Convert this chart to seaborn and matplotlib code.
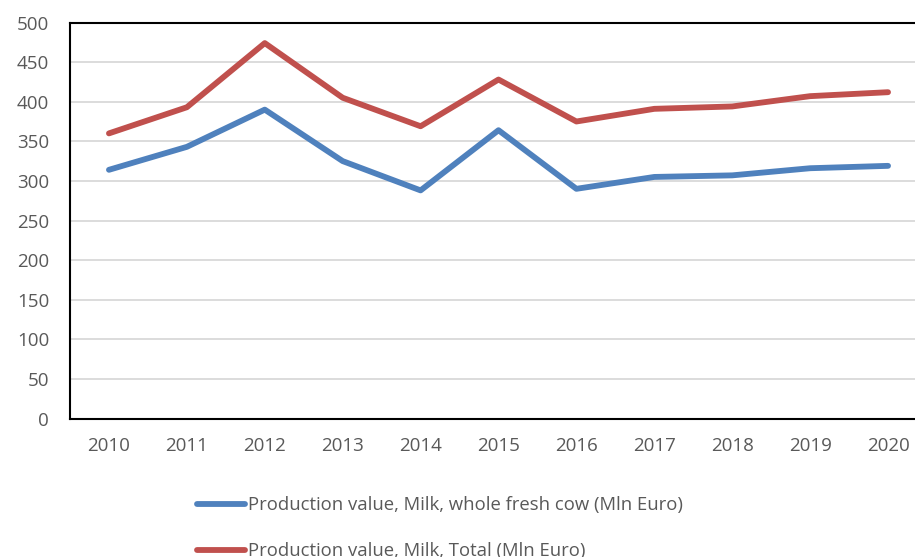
import numpy as np
import pandas as pd
import matplotlib
matplotlib.use("Agg")
import matplotlib.pyplot as plt
import seaborn as sns
from matplotlib.lines import Line2D

years = ["2010", "2011", "2012", "2013", "2014", "2015", "2016", "2017", "2018", "2019", "2020"]
whole_fresh_cow = [314, 343, 390, 325, 288, 364, 290, 305, 307, 316, 319]
milk_total = [360, 393, 474, 405, 369, 428, 375, 391, 394, 407, 412]
series_names = [
    "Production value, Milk, whole fresh cow (Mln Euro)",
    "Production value, Milk, Total (Mln Euro)",
]
y_ticks = [0, 50, 100, 150, 200, 250, 300, 350, 400, 450, 500]

df = pd.DataFrame({
    "Year": years * 2,
    "Value": whole_fresh_cow + milk_total,
    "Series": [series_names[0]] * len(years) + [series_names[1]] * len(years),
})
df["pos"] = df["Year"].map({y: i for i, y in enumerate(years)})

sns.set_theme(style="white")
plt.rcParams["font.family"] = ["Open Sans", "DejaVu Sans"]

fig = plt.figure(figsize=(9.15, 5.57), dpi=100)
ax = fig.add_axes([70 / 915, 138.5 / 557, 857 / 915, 396 / 557])

palette = {series_names[0]: "#4F81BD", series_names[1]: "#C0504D"}
sns.lineplot(data=df, x="pos", y="Value", hue="Series", palette=palette,
             linewidth=4.2, ax=ax, legend=False, solid_capstyle="round")

ax.set_xlim(-0.5, len(years) - 0.5)
ax.set_ylim(0, 500)
ax.set_xticks(range(len(years)))
ax.set_xticklabels(years)
ax.set_yticks(y_ticks)
ax.set_xlabel("")
ax.set_ylabel("")
ax.yaxis.grid(True, color="#D9D9D9", linewidth=1.3)
ax.set_axisbelow(True)
for side in ["left", "bottom", "top", "right"]:
    ax.spines[side].set_visible(True)
    ax.spines[side].set_color("black")
    ax.spines[side].set_linewidth(1.5)
ax.tick_params(axis="both", length=0, labelsize=13.5, colors="#595959")
ax.tick_params(axis="y", pad=15)
ax.tick_params(axis="x", pad=13)

handles = [Line2D([], [], color=palette[n], linewidth=4.2, solid_capstyle="round") for n in series_names]
fig.legend(handles, series_names, loc="upper left",
           bbox_to_anchor=(190 / 915, 1 - 489 / 557), frameon=False,
           fontsize=13.3, labelcolor="#595959", handlelength=2.6,
           handletextpad=0.15, labelspacing=1.5, borderaxespad=0)

fig.savefig("out.png", dpi=100)
